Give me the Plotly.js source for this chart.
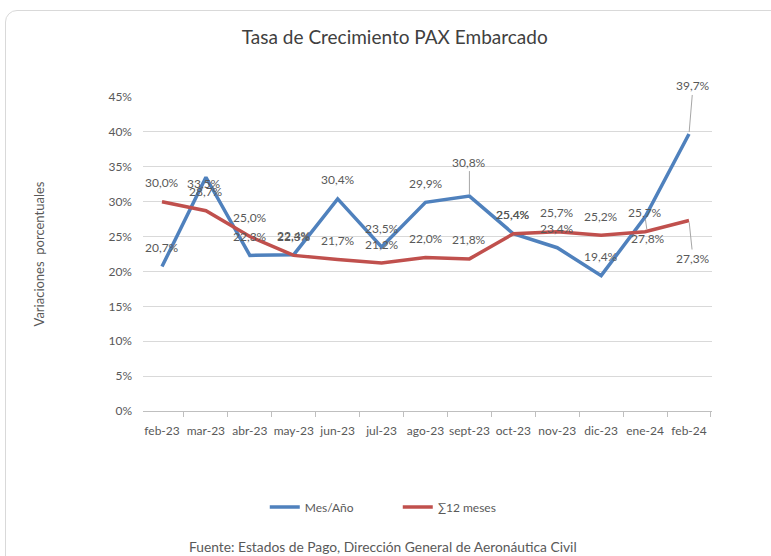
<!DOCTYPE html>
<html>
<head>
<meta charset="utf-8">
<script src="https://cdn.plot.ly/plotly-3.0.1.min.js"></script>
<style>
  html, body { margin: 0; padding: 0; background: #ffffff; }
  #frame { position: absolute; left: 5px; top: 10px; width: 800px; height: 580px;
           border: 1px solid #d9d9d9; border-radius: 12px; }
  #chart { position: absolute; left: 0; top: 0; width: 771px; height: 556px; }
</style>
</head>
<body>
<div id="frame"></div>
<div id="chart"></div>
<script>
// ---- Data ----
const months = ["feb-23","mar-23","abr-23","may-23","jun-23","jul-23","ago-23","sept-23","oct-23","nov-23","dic-23","ene-24","feb-24"];
const mesAnio = [20.7, 33.5, 22.3, 22.4, 30.4, 23.5, 29.9, 30.8, 25.4, 23.4, 19.4, 27.8, 39.7];
const doce    = [30.0, 28.7, 25.0, 22.3, 21.7, 21.2, 22.0, 21.8, 25.4, 25.7, 25.2, 25.7, 27.3];
const yTicks  = [0, 5, 10, 15, 20, 25, 30, 35, 40, 45];

// ---- Label placement (pixel offsets, layout only) ----
const defaultShift = -19;
const blueLabel = {1: {dx: -2, dy: 6}, 7: {arrow: true, ax: 0, ay: -34}, 11: {arrow: true, ax: 3, ay: 21}, 12: {arrow: true, ax: 4, ay: -48}};
const redLabel  = {12: {arrow: true, ax: 4, ay: 38}};

const grey = "#595959";
const fontFam = "Lato, 'Open Sans', sans-serif";
function fmt(v){ return v.toFixed(1).replace(".", ",") + "%"; }

function labels(vals, over){
  return vals.map((v, i) => {
    const o = over[i] || {};
    const a = {x: months[i], y: v, xref: "x", yref: "y", text: fmt(v),
               font: {family: fontFam, size: 12, color: grey}};
    if (o.arrow) {
      Object.assign(a, {showarrow: true, arrowhead: 0, arrowwidth: 1, arrowcolor: "#a6a6a6",
                        ax: o.ax, ay: o.ay, standoff: 2});
    } else {
      Object.assign(a, {showarrow: false, xshift: o.dx || 0, yshift: -(o.dy !== undefined ? o.dy : defaultShift)});
    }
    return a;
  });
}

const traces = [
  {x: months, y: mesAnio, name: "Mes/Año", type: "scatter", mode: "lines",
   line: {color: "#4f81bd", width: 3.5}},
  {x: months, y: doce, name: "∑12 meses", type: "scatter", mode: "lines",
   line: {color: "#c0504d", width: 3.5}}
];

const layout = {
  width: 771, height: 556,
  margin: {l: 143, r: 59, t: 97, b: 145},
  paper_bgcolor: "rgba(0,0,0,0)", plot_bgcolor: "rgba(0,0,0,0)",
  font: {family: fontFam, color: grey, size: 12},
  title: {text: "Tasa de Crecimiento PAX Embarcado", xref: "container", x: 0.512, y: 0.932,
          xanchor: "center", yanchor: "middle", font: {family: fontFam, size: 19, color: "#404040"}},
  xaxis: {type: "category", showgrid: false, showline: true, linecolor: "#bfbfbf", linewidth: 1,
          ticks: "outside", tickson: "boundaries", ticklen: 5, tickcolor: "#bfbfbf", tickangle: 0,
          ticklabelstandoff: 9,
          tickfont: {family: fontFam, size: 12, color: grey}, zeroline: false, fixedrange: true},
  yaxis: {range: [0, 45], tickvals: yTicks, ticktext: yTicks.map(t => t + "%"),
          showgrid: true, gridcolor: "#d9d9d9", gridwidth: 1, zeroline: false, showline: false,
          ticks: "", ticklabelstandoff: 10, tickfont: {family: fontFam, size: 12, color: grey},
          title: {text: "Variaciones  porcentuales", standoff: 60, font: {family: fontFam, size: 13, color: grey}}},
  showlegend: true,
  legend: {orientation: "h", x: 0.214, y: -0.306, xanchor: "left", yanchor: "middle",
           font: {family: fontFam, size: 12, color: grey}, entrywidth: 88, entrywidthmode: "pixels"},
  annotations: labels(mesAnio, blueLabel).concat(labels(doce, redLabel)).concat([
    {text: "Fuente: Estados de Pago, Dirección General de Aeronáutica Civil", xref: "paper", yref: "paper",
     x: (383 - 143) / 569, y: (411 - 546) / 314, showarrow: false, xanchor: "center", yanchor: "middle",
     font: {family: fontFam, size: 13.8, color: grey}}
  ])
};

Plotly.newPlot("chart", traces, layout, {displayModeBar: false, staticPlot: true});
</script>
</body>
</html>
